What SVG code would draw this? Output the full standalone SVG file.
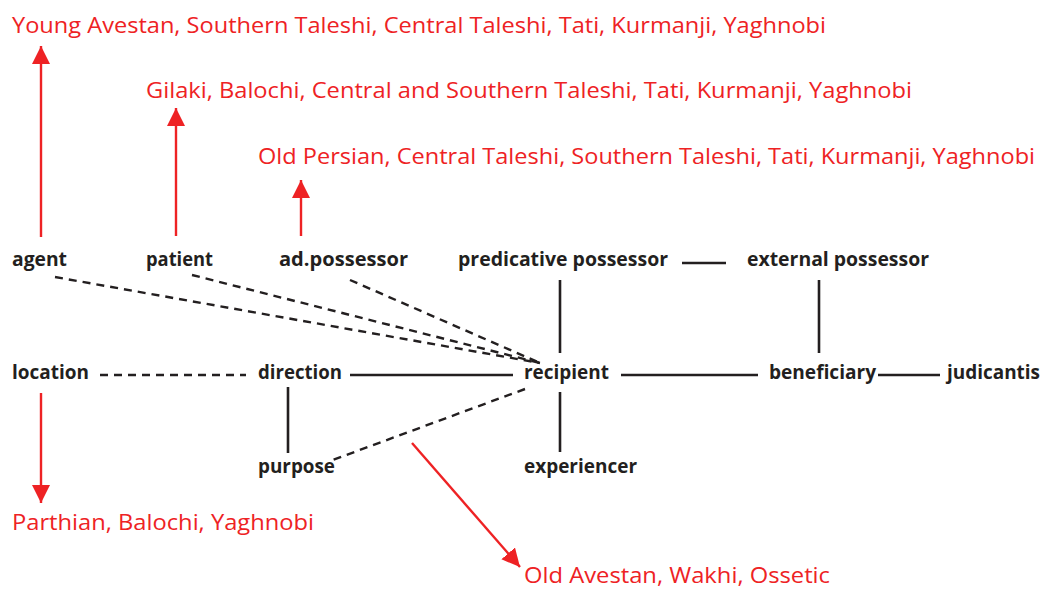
<svg xmlns="http://www.w3.org/2000/svg" width="1044" height="589" viewBox="0 0 1044 589">
<style>
.lbl{font-family:"Open Sans","Liberation Sans",Arial,sans-serif;font-weight:bold;font-size:20px;fill:#231f20}
.red{font-family:"Open Sans","Liberation Sans",Arial,sans-serif;font-size:22.5px;fill:#ee2224}
.ln{stroke:#231f20;stroke-width:2.6;fill:none}
.ds{stroke:#231f20;stroke-width:2.4;fill:none;stroke-dasharray:8 6}
.ra{stroke:#ee2224;stroke-width:2.4;fill:none;marker-end:url(#ah)}
</style>
<defs>
<marker id="ah" markerUnits="userSpaceOnUse" markerWidth="20" markerHeight="20" viewBox="0 0 20 20" refX="18" refY="10" orient="auto">
<path d="M0,1 L18,10 L0,19 Z" fill="#ee2224"/>
</marker>
</defs>
<rect width="1044" height="589" fill="#ffffff"/>
<g id="connectors">
<line class="ds" x1="55" y1="277" x2="540" y2="363"/>
<line class="ds" x1="192" y1="275" x2="540" y2="363"/>
<line class="ds" x1="350" y1="280" x2="540" y2="363"/>
<line class="ds" x1="100" y1="375" x2="246" y2="375"/>
<line class="ln" x1="350" y1="375" x2="513" y2="375"/>
<line class="ln" x1="621" y1="375" x2="758" y2="375"/>
<line class="ln" x1="878" y1="375" x2="940" y2="375"/>
<line class="ln" x1="682" y1="263" x2="726" y2="263"/>
<line class="ln" x1="560" y1="280" x2="560" y2="353"/>
<line class="ln" x1="819" y1="280" x2="819" y2="353"/>
<line class="ln" x1="288" y1="387" x2="288" y2="453"/>
<line class="ln" x1="560" y1="392" x2="560" y2="452"/>
<line class="ds" x1="525" y1="389" x2="330" y2="461"/>
<line class="ra" x1="41" y1="237" x2="41" y2="46"/>
<line class="ra" x1="176" y1="236" x2="176" y2="108"/>
<line class="ra" x1="301" y1="236" x2="301" y2="180"/>
<line class="ra" x1="41" y1="393" x2="41" y2="503"/>
<line class="ra" x1="412" y1="443" x2="520" y2="567"/>
</g>
<g id="n-agent"><text class="lbl" x="12" y="266" textLength="55" lengthAdjust="spacingAndGlyphs">agent</text></g>
<g id="n-patient"><text class="lbl" x="146" y="266" textLength="67" lengthAdjust="spacingAndGlyphs">patient</text></g>
<g id="n-adpossessor"><text class="lbl" x="279" y="266" textLength="129" lengthAdjust="spacingAndGlyphs">ad.possessor</text></g>
<g id="n-predicative"><text class="lbl" x="458" y="266" textLength="210" lengthAdjust="spacingAndGlyphs">predicative possessor</text></g>
<g id="n-external"><text class="lbl" x="747" y="266" textLength="182" lengthAdjust="spacingAndGlyphs">external possessor</text></g>
<g id="n-location"><text class="lbl" x="12" y="379" textLength="77" lengthAdjust="spacingAndGlyphs">location</text></g>
<g id="n-direction"><text class="lbl" x="258" y="379" textLength="84" lengthAdjust="spacingAndGlyphs">direction</text></g>
<g id="n-recipient"><text class="lbl" x="524" y="379" textLength="85" lengthAdjust="spacingAndGlyphs">recipient</text></g>
<g id="n-beneficiary"><text class="lbl" x="769" y="379" textLength="107" lengthAdjust="spacingAndGlyphs">beneficiary</text></g>
<g id="n-judicantis"><text class="lbl" x="947" y="379" textLength="93" lengthAdjust="spacingAndGlyphs">judicantis</text></g>
<g id="n-purpose"><text class="lbl" x="258" y="473" textLength="77" lengthAdjust="spacingAndGlyphs">purpose</text></g>
<g id="n-experiencer"><text class="lbl" x="524" y="473" textLength="113" lengthAdjust="spacingAndGlyphs">experiencer</text></g>
<g id="r-agent"><text class="red" x="12" y="33" textLength="814" lengthAdjust="spacingAndGlyphs">Young Avestan, Southern Taleshi, Central Taleshi, Tati, Kurmanji, Yaghnobi</text></g>
<g id="r-patient"><text class="red" x="146" y="98" textLength="766" lengthAdjust="spacingAndGlyphs">Gilaki, Balochi, Central and Southern Taleshi, Tati, Kurmanji, Yaghnobi</text></g>
<g id="r-adpossessor"><text class="red" x="258" y="164" textLength="777" lengthAdjust="spacingAndGlyphs">Old Persian, Central Taleshi, Southern Taleshi, Tati, Kurmanji, Yaghnobi</text></g>
<g id="r-location"><text class="red" x="12" y="530" textLength="302" lengthAdjust="spacingAndGlyphs">Parthian, Balochi, Yaghnobi</text></g>
<g id="r-recipient"><text class="red" x="524" y="583" textLength="306" lengthAdjust="spacingAndGlyphs">Old Avestan, Wakhi, Ossetic</text></g>
</svg>
